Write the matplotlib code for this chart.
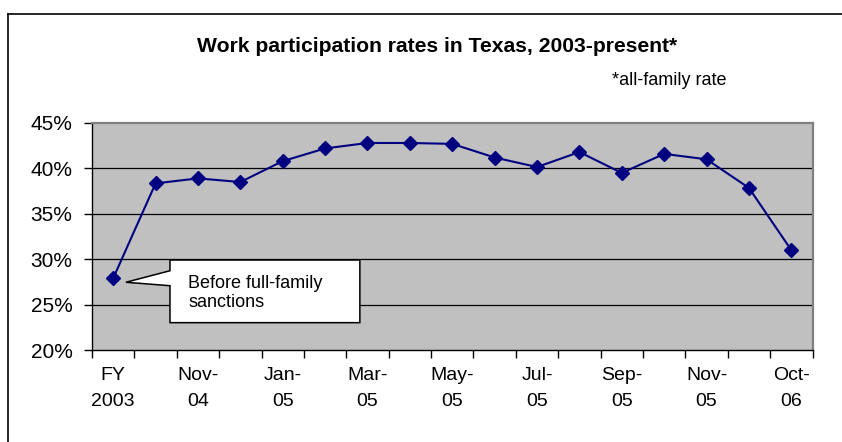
import numpy as np
import matplotlib
matplotlib.use('Agg')
import matplotlib.pyplot as plt
from matplotlib.patches import Polygon
from matplotlib.lines import Line2D

plt.rcParams['font.family'] = ['Liberation Sans', 'DejaVu Sans']

# month labels for each data point (only every other one is shown)
months = ['FY\n2003', 'Oct-\n04', 'Nov-\n04', 'Dec-\n04', 'Jan-\n05', 'Feb-\n05',
          'Mar-\n05', 'Apr-\n05', 'May-\n05', 'Jun-\n05', 'Jul-\n05', 'Aug-\n05',
          'Sep-\n05', 'Oct-\n05', 'Nov-\n05', 'Dec-\n05', 'Oct-\n06']
rates = [27.9, 38.35, 38.9, 38.5, 40.8, 42.2, 42.8, 42.8, 42.7, 41.2,
         40.15, 41.8, 39.5, 41.6, 41.0, 37.85, 31.0]
yticks = [20, 25, 30, 35, 40, 45]

W, H = 842, 442
fig = plt.figure(figsize=(W / 100, H / 100), dpi=100)
ax = fig.add_axes([92 / W, 1 - 350 / H, (812.5 - 92) / W, (350 - 123) / H])
ax.set_facecolor('#C0C0C0')

x = np.arange(len(rates))
ax.plot(x, rates, color='#000080', lw=1.5, marker='D', ms=7,
        mec='#000080', mfc='#000080', zorder=3, clip_on=False)

ax.set_xlim(-0.5, len(rates) - 0.5)
ax.set_ylim(20, 45)
ax.set_yticks(yticks)
ax.set_yticklabels([f'{v}%' for v in yticks], fontsize=15)
for v in yticks[1:-1]:
    ax.axhline(v, color='black', lw=0.9, zorder=1)

# ticks at category boundaries, labels on every other category
ax.set_xticks(np.arange(len(rates) + 1) - 0.5)
ax.set_xticklabels([])
ax.set_xticks(x[::2], minor=True)
ax.set_xticklabels(months[::2], minor=True, fontsize=14, linespacing=1.7)
ax.tick_params(axis='x', which='minor', length=0, pad=12)
ax.tick_params(axis='x', which='major', length=6, width=1, direction='out')
ax.tick_params(axis='y', length=6, width=1, direction='out', pad=8)

for s in ['top', 'right']:
    ax.spines[s].set_color('#808080')
    ax.spines[s].set_linewidth(1.6)
for s in ['left', 'bottom']:
    ax.spines[s].set_color('black')
    ax.spines[s].set_linewidth(1)

# callout box
callout = Polygon([(1.34, 29.91), (5.82, 29.91), (5.82, 23.01), (1.34, 23.01),
                   (1.34, 27.08), (0.30, 27.46), (1.34, 28.73)],
                  closed=True, facecolor='white', edgecolor='black', lw=1.1,
                  zorder=4, clip_on=False)
ax.add_patch(callout)
ax.text(1.77, 26.86, 'Before full-family', fontsize=13, va='baseline', zorder=5)
ax.text(1.77, 24.70, 'sanctions', fontsize=13, va='baseline', zorder=5)

fig.text(437.5 / W, 1 - 52 / H, 'Work participation rates in Texas, 2003-present*',
         fontsize=15.2, fontweight='bold', ha='center', va='baseline')
fig.text(612 / W, 1 - 85 / H, '*all-family rate', fontsize=13, va='baseline')

# chart area border (cut off at right and bottom)
fig.add_artist(Line2D([8 / W, 1], [1 - 14 / H, 1 - 14 / H], color='black', lw=1.2))
fig.add_artist(Line2D([8 / W, 8 / W], [1 - 14 / H, 0], color='black', lw=1.2))

fig.savefig('out.png', dpi=100)
